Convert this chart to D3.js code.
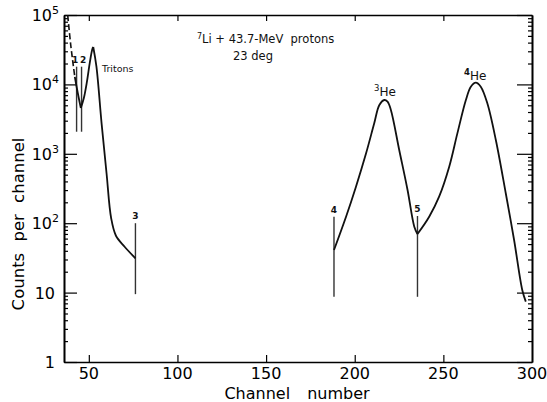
<!DOCTYPE html>
<html lang="en">
<head>
  <meta charset="UTF-8">
  <title>7Li + 43.7-MeV protons, 23 deg</title>
  <script src="https://cdn.jsdelivr.net/npm/d3@7"></script>
  <style>
    body { margin: 0; background: #fff; }
    svg { display: block; font-family: "DejaVu Sans", sans-serif; }
  </style>
</head>
<body>
<script>
  // tick values
  const xTicks = [50, 100, 150, 200, 250, 300]
  const yTicks = [1, 10, 100, 1000, 10000, 100000]

  // spectrum as [channel, counts]
  const tritonDashed = [[38.1, 99000], [39.8, 37000], [42.1, 12800]]
  const tritonDescent = [[42.1, 12800], [43.8, 7450], [45.5, 4570]]
  const tritonRise = [[45.5, 4570], [47.2, 6370], [48.9, 10800], [50.6, 21000], [52.0, 32400], [52.5, 34600]]
  const tritonTail = [[52.5, 34600], [54.3, 18000], [57.2, 2750], [60.0, 524], [62.6, 118], [65.3, 66], [70.2, 45.8], [76.3, 31.2]]
  const he3Peak = [[188.3, 41.1], [195.1, 124], [200.7, 336], [206.4, 1016], [211.0, 2750], [213.9, 5050], [216.7, 5960],
    [218.5, 5630], [220.4, 4280], [225.1, 1135], [229.8, 301], [233.6, 89], [235.4, 69.8]]
  const he4Peak = [[235.4, 69.8], [242.0, 124], [247.6, 241], [253.3, 652], [257.9, 1970], [262.7, 5960], [265.5, 9270],
    [268.3, 10600], [271.1, 9270], [274.8, 5340], [279.6, 1580], [285.2, 270], [289.9, 57.3], [294.5, 10.9], [296.5, 7.4]]

  // channel markers
  const markerNames = ['1', '2', '3', '4', '5']
  const markerChannels = [43.1, 45.9, 76.3, 188.3, 235.4]
  const markerTop = [18000, 18000, 100, 124, 127]
  const markerBottom = [2080, 2080, 9.5, 8.7, 8.7]

  const width = 547
  const height = 402
  const margin = {top: 15, right: 15, bottom: 40, left: 64}

  const x = d3.scaleLinear()
    .domain([36, 300])
    .range([margin.left, width - margin.right])
  const y = d3.scaleLog()
    .domain([1, 1e5])
    .range([height - margin.bottom, margin.top])

  const minor = []
  yTicks.slice(0, -1).forEach(d => {
    for (let k = 2; k < 10; k++) minor.push(d * k)
  })

  const svg = d3.select('body').append('svg')
    .attr('width', width)
    .attr('height', height)

  // frame with inward ticks
  const axisStyle = g => g
    .call(g => g.select('.domain').attr('stroke-width', 1.6))
    .call(g => g.selectAll('.tick line').attr('stroke-width', 1.2))

  svg.append('g')
    .attr('transform', `translate(0,${height - margin.bottom})`)
    .call(d3.axisBottom(x).tickValues(xTicks.slice(0, -1)).tickSize(-7).tickSizeOuter(0).tickFormat(''))
    .call(axisStyle)
  svg.append('g')
    .attr('transform', `translate(0,${margin.top})`)
    .call(d3.axisTop(x).tickValues(xTicks.slice(0, -1)).tickSize(-6).tickSizeOuter(0).tickFormat(''))
    .call(axisStyle)
  svg.append('g')
    .attr('transform', `translate(${margin.left},0)`)
    .call(d3.axisLeft(y).tickValues(yTicks).tickSize(-13).tickSizeOuter(0).tickFormat(''))
    .call(axisStyle)
  svg.append('g')
    .attr('transform', `translate(${margin.left},0)`)
    .call(d3.axisLeft(y).tickValues(minor).tickSize(-4).tickSizeOuter(0).tickFormat(''))
    .call(axisStyle)
  svg.append('g')
    .attr('transform', `translate(${width - margin.right},0)`)
    .call(d3.axisRight(y).tickValues(yTicks).tickSize(-15).tickSizeOuter(0).tickFormat(''))
    .call(axisStyle)
  svg.append('g')
    .attr('transform', `translate(${width - margin.right},0)`)
    .call(d3.axisRight(y).tickValues(minor).tickSize(-4).tickSizeOuter(0).tickFormat(''))
    .call(axisStyle)

  // x tick labels
  svg.append('g')
    .attr('font-size', 16)
    .attr('text-anchor', 'middle')
    .selectAll('text')
    .data(xTicks)
    .join('text')
    .attr('x', d => x(d))
    .attr('y', 379)
    .text(d => d)

  // y tick labels, powers of ten
  svg.append('g')
    .attr('font-size', 16)
    .attr('text-anchor', 'end')
    .selectAll('text')
    .data(yTicks)
    .join('text')
    .attr('x', d => d >= 100 ? 59 : 55)
    .attr('y', d => y(d) + 6)
    .each(function (d) {
      const e = Math.round(Math.log10(d))
      const t = d3.select(this)
      if (e < 2) {
        t.text(d)
      } else {
        t.append('tspan').text('10')
        t.append('tspan').attr('font-size', 11).attr('dy', -7).text(e)
      }
    })

  // axis titles
  svg.append('text')
    .attr('x', 297)
    .attr('y', 399)
    .attr('font-size', 16)
    .attr('text-anchor', 'middle')
    .attr('word-spacing', 12)
    .text('Channel number')
  svg.append('text')
    .attr('transform', 'translate(24,224) rotate(-90)')
    .attr('font-size', 16.5)
    .attr('text-anchor', 'middle')
    .attr('word-spacing', 6)
    .text('Counts per channel')

  // marker lines
  svg.append('g')
    .attr('stroke', '#333')
    .attr('stroke-width', 1.4)
    .selectAll('line')
    .data(markerChannels)
    .join('line')
    .attr('x1', d => x(d))
    .attr('x2', d => x(d))
    .attr('y1', (d, i) => y(markerTop[i]))
    .attr('y2', (d, i) => y(markerBottom[i]))
  svg.append('g')
    .attr('font-size', 9)
    .attr('font-weight', 'bold')
    .attr('fill', '#111')
    .attr('text-anchor', 'middle')
    .selectAll('text')
    .data(markerChannels)
    .join('text')
    .attr('x', (d, i) => x(d) + (i === 0 ? -1.5 : i === 1 ? 1.5 : 0))
    .attr('y', (d, i) => y(markerTop[i]) - 4)
    .text((d, i) => markerNames[i])

  // spectrum
  const line = d3.line()
    .x(d => x(d[0]))
    .y(d => y(d[1]))
    .curve(d3.curveCatmullRom.alpha(0.5))

  svg.append('path')
    .attr('d', line(tritonDashed))
    .attr('fill', 'none')
    .attr('stroke', '#111')
    .attr('stroke-width', 1.6)
    .attr('stroke-dasharray', '6,3')

  svg.append('g')
    .attr('fill', 'none')
    .attr('stroke', '#111')
    .attr('stroke-width', 1.8)
    .attr('stroke-linejoin', 'round')
    .selectAll('path')
    .data([tritonDescent, tritonRise, tritonTail, he3Peak, he4Peak])
    .join('path')
    .attr('d', line)

  // annotations
  const note = svg.append('g').attr('fill', '#111')
  const title = note.append('text').attr('x', 197).attr('y', 43).attr('font-size', 11.5)
  title.append('tspan').attr('font-size', 8).attr('dy', -4).text('7')
  title.append('tspan').attr('dy', 4).text('Li + 43.7-MeV  protons')
  title.attr('style', 'white-space:pre')
  note.append('text').attr('x', 233).attr('y', 60).attr('font-size', 11.5).text('23 deg')
  note.append('text').attr('x', 102).attr('y', 72).attr('font-size', 9.5).text('Tritons')

  const he3 = note.append('text').attr('x', 374).attr('y', 96).attr('font-size', 12)
  he3.append('tspan').attr('font-size', 8.5).attr('dy', -5).text('3')
  he3.append('tspan').attr('dy', 5).text('He')
  const he4 = note.append('text').attr('x', 464).attr('y', 80).attr('font-size', 12)
  he4.append('tspan').attr('font-size', 8.5).attr('dy', -5).attr('font-weight', 'bold').text('4')
  he4.append('tspan').attr('dy', 5).text('He')
</script>
</body>
</html>
